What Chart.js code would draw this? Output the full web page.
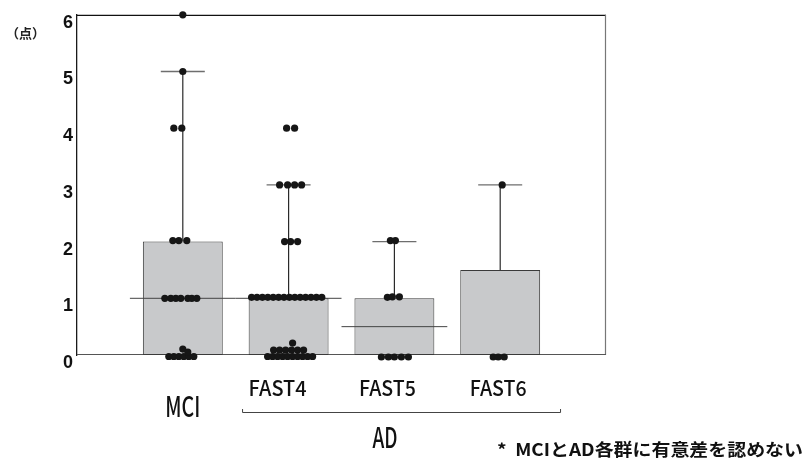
<!DOCTYPE html>
<html><head><meta charset="utf-8">
<script src="https://cdn.jsdelivr.net/npm/chart.js@4.4.1/dist/chart.umd.min.js"></script>
<style>html,body{margin:0;padding:0;background:#fff;}#wrap{width:809px;height:460px;}</style>
</head><body><div id="wrap"><canvas id="c" width="809" height="460"></canvas></div>
<script>
// ---- data ----
const categories = ['MCI', 'FAST4', 'FAST5', 'FAST6'];
const groupLabel = 'AD';
const unitLabel = '（点）';
const footnote = '*  MCIとAD各群に有意差を認めない';
const yTicks = [0, 1, 2, 3, 4, 5, 6];
const boxLow = [0, 0, 0, 0];
const boxHigh = [2, 1, 1, 1.5];
const medians = [1, 1, 0.5, null];
const whiskerHigh = [5, 3, 2, 3];
const mciScores = [6, 5, 4, 4, 2, 2, 2, 1, 1, 1, 1, 1, 1, 1, 0, 0, 0, 0, 0, 0, 0, 0];
const fast4Scores = [4, 4, 3, 3, 3, 3, 2, 2, 2,
  1, 1, 1, 1, 1, 1, 1, 1, 1, 1, 1, 1, 1, 1,
  0, 0, 0, 0, 0, 0, 0, 0, 0, 0, 0, 0, 0, 0, 0, 0, 0];
const fast5Scores = [2, 2, 1, 1, 1, 0, 0, 0, 0, 0];
const fast6Scores = [3, 0, 0, 0];

// ---- layout: beeswarm offsets in pixels [dx, dy(up)] for each score above ----
const mciSwarm = [[0,0],[0,0],[-9,0],[-1,0],[-10,1],[-4,1],[4,1],
  [-18,0],[-12,0],[-7,0],[-2,0],[5,0],[9,0],[14,0],
  [-14,-1.5],[-9,-1.5],[-4,-1.5],[1,-1.5],[6,-1.5],[11,-1.5],[0,6],[5,3]];
const fast4Swarm = [[-2,0],[6,0],[-9,0],[-1,0],[6,0],[13,0],[-4,0],[2,0],[9,0],
  [-37,1],[-31.6,1],[-26.2,1],[-20.8,1],[-15.4,1],[-10,1],[-4.6,1],[0.8,1],[6.2,1],[11.6,1],[17,1],[22.4,1],[27.8,1],[33.2,1],
  [-21,-1.5],[-16,-1.5],[-11,-1.5],[-6,-1.5],[-1,-1.5],[4,-1.5],[9,-1.5],[14,-1.5],[19,-1.5],[24,-1.5],
  [-15,5],[-9,5],[-3,5],[3,5],[9,5],[15,5],[4,12]];
const fast5Swarm = [[-4,1],[1,1],[-7,1],[-2,1.5],[5,1.5],[-13,-2],[-6,-2],[0,-2],[7,-2],[14,-2]];
const fast6Swarm = [[2,0],[-7,-2],[-2,-2],[4,-2]];

const PX_X = 1 / 105.8, PX_Y = 1 / 57;
const allScores = [mciScores, fast4Scores, fast5Scores, fast6Scores];
const allSwarm = [mciSwarm, fast4Swarm, fast5Swarm, fast6Swarm];

const datasets = [];
// dots
allScores.forEach((arr, g) => {
  datasets.push({
    type: 'scatter', order: 0, clip: false,
    data: arr.map((v, i) => ({ x: g + 1 + allSwarm[g][i][0] * PX_X, y: v + allSwarm[g][i][1] * PX_Y })),
    pointRadius: 3.6, pointHoverRadius: 3.6, backgroundColor: '#161616', borderWidth: 0
  });
});
// medians
medians.forEach((m, g) => {
  if (m === null) return;
  datasets.push({ type: 'line', order: 1, data: [{x: g + 0.5, y: m}, {x: g + 1.5, y: m}],
    borderColor: '#444', borderWidth: 1, pointRadius: 0, fill: false });
});
// whiskers + caps
whiskerHigh.forEach((w, g) => {
  datasets.push({ type: 'line', order: 2, data: [{x: g + 1, y: boxHigh[g]}, {x: g + 1, y: w}],
    borderColor: '#2a2a2a', borderWidth: 1.2, pointRadius: 0, fill: false });
  datasets.push({ type: 'line', order: 2, data: [{x: g + 0.792, y: w}, {x: g + 1.208, y: w}],
    borderColor: '#6e6e6e', borderWidth: 1.3, pointRadius: 0, fill: false });
});
// boxes
datasets.push({
  type: 'bar', order: 3,
  data: categories.map((c, g) => ({ x: g + 1, y: [boxLow[g], boxHigh[g]] })),
  backgroundColor: '#c8c9cb', borderColor: '#3a3a3a', borderWidth: 1, borderSkipped: false,
  barPercentage: 0.755, categoryPercentage: 1
});

function fitText(ctx, text, cx, by, font, w, color) {
  ctx.save();
  ctx.font = font;
  const m = ctx.measureText(text).width;
  ctx.translate(cx, by);
  ctx.scale(w / m, 1);
  ctx.textAlign = 'center';
  ctx.textBaseline = 'alphabetic';
  ctx.fillStyle = color || '#111';
  ctx.fillText(text, 0, 0);
  ctx.restore();
}

const deco = {
  id: 'deco',
  beforeDatasetsDraw(chart) {
    const { ctx, chartArea: a } = chart;
    ctx.save();
    ctx.lineWidth = 1.2;
    ctx.strokeStyle = '#111';
    ctx.beginPath(); ctx.moveTo(a.left, a.top + 0.5); ctx.lineTo(a.right, a.top + 0.5); ctx.stroke();
    ctx.strokeStyle = '#777';
    ctx.beginPath(); ctx.moveTo(a.right - 0.5, a.top); ctx.lineTo(a.right - 0.5, a.bottom); ctx.stroke();
    ctx.strokeStyle = '#555';
    ctx.beginPath(); ctx.moveTo(a.left, a.bottom - 0.5); ctx.lineTo(a.right, a.bottom - 0.5); ctx.stroke();
    ctx.restore();
  },
  afterDraw(chart) {
    const { ctx } = chart;
    const xs = chart.scales.x;
    const cjk = '"Noto Sans CJK JP", "Noto Sans", sans-serif';
    // category labels
    const labelDx = [0, -11, -7, -2];
    const labelW = [35, 58, 57, 57];
    const labelY = [417, 396, 396, 396];
    const labelFont = ['500 28px ' + cjk, '500 21px ' + cjk, '500 21px ' + cjk, '500 21px ' + cjk];
    categories.forEach((c, g) => {
      fitText(ctx, c, xs.getPixelForValue(g + 1) + labelDx[g], labelY[g], labelFont[g], labelW[g]);
    });
    // bracket
    const x0 = xs.getPixelForValue(1.56), x1 = xs.getPixelForValue(4.575);
    ctx.save();
    ctx.strokeStyle = '#444'; ctx.lineWidth = 1;
    ctx.beginPath();
    ctx.moveTo(x0 + 0.5, 409); ctx.lineTo(x0 + 0.5, 412.5); ctx.lineTo(x1 - 0.5, 412.5); ctx.lineTo(x1 - 0.5, 409);
    ctx.stroke();
    ctx.restore();
    fitText(ctx, groupLabel, xs.getPixelForValue(2.91), 448, '500 28px ' + cjk, 25);
    // unit label
    ctx.save();
    ctx.font = 'bold 13px ' + cjk;
    ctx.fillStyle = '#222';
    ctx.textAlign = 'left'; ctx.textBaseline = 'middle';
    ctx.fillText(unitLabel, 6, 33);
    ctx.restore();
    // footnote
    fitText(ctx, footnote, 650, 456, 'bold 17px ' + cjk, 306);
  }
};

new Chart(document.getElementById('c'), {
  type: 'bar',
  data: { datasets },
  options: {
    responsive: false, animation: false, devicePixelRatio: 1,
    layout: { padding: { top: 13, right: 203, bottom: 105, left: 0 } },
    plugins: { legend: { display: false }, tooltip: { enabled: false } },
    scales: {
      x: { type: 'linear', min: 0, max: 5, offset: false, display: false, grid: { offset: false },
        afterBuildTicks(s) { s.ticks = [0, 1, 2, 3, 4, 5].map(v => ({ value: v })); } },
      y: {
        type: 'linear', min: 0, max: 6,
        afterBuildTicks(s) { s.ticks = yTicks.map(v => ({ value: v })); },
        afterFit(s) { s.width = 77; },
        ticks: { padding: 4, labelOffset: 8, color: '#111',
          font: { family: '"Liberation Sans", Arial, sans-serif', size: 18, weight: 'bold' } },
        grid: { display: false, drawTicks: false },
        border: { display: true, color: '#1a1a1a', width: 1.3 }
      }
    }
  },
  plugins: [deco]
});
</script></body></html>
